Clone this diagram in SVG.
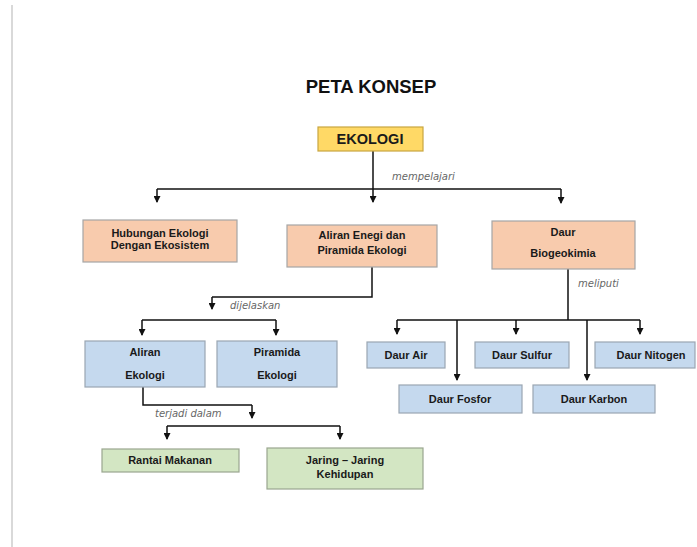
<svg xmlns="http://www.w3.org/2000/svg" width="697" height="547" viewBox="0 0 697 547">
<defs>
<marker id="ah" markerUnits="userSpaceOnUse" markerWidth="7" markerHeight="7" refX="6" refY="3.5" orient="auto">
<path d="M0,0 L7,3.5 L0,7 z" fill="#111"/>
</marker>
<style>
.n{font-family:"Liberation Sans",Arial,sans-serif;font-weight:bold;font-size:11px;fill:#1a1a1a;text-anchor:middle}
.lb{font-family:"DejaVu Sans",Verdana,sans-serif;font-style:italic;font-size:10px;fill:#666}
.c{stroke:#111;stroke-width:1.5;fill:none}
.a{stroke:#111;stroke-width:1.5;fill:none;marker-end:url(#ah)}
.pk{fill:#f8cbad;stroke:#a6a6a6;stroke-width:1.2}
.bl{fill:#c5d9ee;stroke:#9aa6b2;stroke-width:1.2}
.gr{fill:#d3e6c3;stroke:#9aa68f;stroke-width:1.2}
</style>
</defs>
<rect width="697" height="547" fill="#fff"/>
<line x1="12" y1="5" x2="12" y2="547" stroke="#ccc" stroke-width="1.5"/>
<text x="371" y="93" style="font-family:'Liberation Sans',Arial,sans-serif;font-weight:bold;font-size:18.5px;fill:#111;text-anchor:middle">PETA KONSEP</text>

<g id="connectors">
<path class="a" d="M373,151 V202"/>
<path class="c" d="M157,189 H561"/>
<path class="a" d="M157,189 V202"/>
<path class="a" d="M561,189 V203"/>
<path class="c" d="M372,267 V297 H212"/>
<path class="a" d="M212,297 V309"/>
<path class="c" d="M142,320 H276"/>
<path class="a" d="M142,320 V335"/>
<path class="a" d="M276,320 V335"/>
<path class="c" d="M568,269 V320 M397,320 H640"/>
<path class="a" d="M397,320 V334"/>
<path class="a" d="M457,320 V380"/>
<path class="a" d="M516,320 V334"/>
<path class="a" d="M587,320 V380"/>
<path class="a" d="M640,320 V334"/>
<path class="c" d="M143,387 V405 H252"/>
<path class="a" d="M252,405 V418"/>
<path class="c" d="M167,426 H340"/>
<path class="a" d="M167,426 V439"/>
<path class="a" d="M340,426 V439"/>
<text class="lb" x="392" y="180">mempelajari</text>
<text class="lb" x="230" y="309">dijelaskan</text>
<text class="lb" x="578" y="287">meliputi</text>
<text class="lb" x="155" y="417">terjadi dalam</text>
</g>

<g id="ekologi">
<rect x="318" y="127" width="105" height="24" fill="#ffd966" stroke="#c9a640" stroke-width="1.2"/>
<text class="n" x="370" y="144" style="font-size:14.5px">EKOLOGI</text>
</g>
<g id="hubungan">
<rect class="pk" x="83" y="220" width="154" height="42"/>
<text class="n" x="160" y="237">Hubungan Ekologi</text>
<text class="n" x="160" y="249">Dengan Ekosistem</text>
</g>
<g id="aliran-enegi">
<rect class="pk" x="287" y="225" width="150" height="42"/>
<text class="n" x="362" y="239">Aliran Enegi dan</text>
<text class="n" x="362" y="254">Piramida Ekologi</text>
</g>
<g id="daur-bio">
<rect class="pk" x="492" y="221" width="143" height="48"/>
<text class="n" x="563" y="236">Daur</text>
<text class="n" x="563" y="257">Biogeokimia</text>
</g>
<g id="aliran-ekologi">
<rect class="bl" x="85" y="341" width="120" height="46"/>
<text class="n" x="145" y="356">Aliran</text>
<text class="n" x="145" y="379">Ekologi</text>
</g>
<g id="piramida-ekologi">
<rect class="bl" x="217" y="341" width="120" height="46"/>
<text class="n" x="277" y="356">Piramida</text>
<text class="n" x="277" y="379">Ekologi</text>
</g>
<g id="daur-air">
<rect class="bl" x="367" y="342" width="78" height="26"/>
<text class="n" x="406" y="359">Daur Air</text>
</g>
<g id="daur-sulfur">
<rect class="bl" x="475" y="342" width="94" height="26"/>
<text class="n" x="522" y="359">Daur Sulfur</text>
</g>
<g id="daur-nitogen">
<rect class="bl" x="595" y="342" width="100" height="26"/>
<text class="n" x="651" y="359">Daur Nitogen</text>
</g>
<g id="daur-fosfor">
<rect class="bl" x="399" y="385" width="123" height="28"/>
<text class="n" x="460" y="403">Daur Fosfor</text>
</g>
<g id="daur-karbon">
<rect class="bl" x="533" y="385" width="122" height="28"/>
<text class="n" x="594" y="403">Daur Karbon</text>
</g>
<g id="rantai">
<rect class="gr" x="102" y="449" width="137" height="23"/>
<text class="n" x="170" y="464">Rantai Makanan</text>
</g>
<g id="jaring">
<rect class="gr" x="267" y="448" width="156" height="41"/>
<text class="n" x="345" y="464">Jaring – Jaring</text>
<text class="n" x="345" y="478">Kehidupan</text>
</g>
</svg>
